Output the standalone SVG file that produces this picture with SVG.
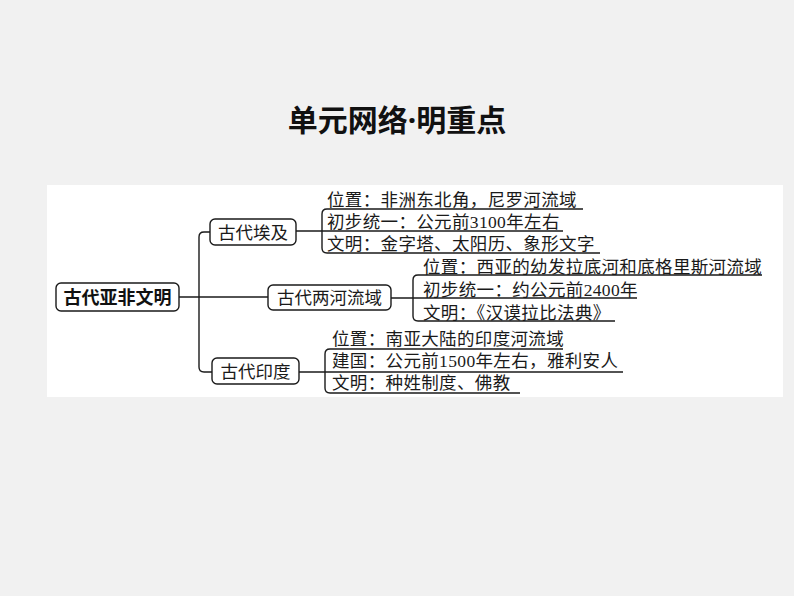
<svg xmlns="http://www.w3.org/2000/svg" width="794" height="596" viewBox="0 0 794 596">
<style>
.bg{fill:#f1f1f1}
.panel{fill:#ffffff}
.box{fill:#ffffff;stroke:#1a1a1a;stroke-width:1.4}
.ln{fill:none;stroke:#1a1a1a;stroke-width:1.4}
.t{font-family:"Liberation Serif","Noto Sans CJK SC",serif;font-size:17.5px;letter-spacing:0.35px;fill:#1a1a1a}
.bt{font-family:"Liberation Serif","Noto Sans CJK SC",serif;font-size:17.5px;fill:#1a1a1a;text-anchor:middle}
.root{font-family:"Noto Sans CJK SC",sans-serif;font-size:18px;font-weight:bold;fill:#111;text-anchor:middle}
.title{font-family:"Noto Sans CJK SC",sans-serif;font-size:30px;font-weight:bold;fill:#111;text-anchor:middle}
.dot{font-family:"Noto Sans",sans-serif}
</style>
<rect class="bg" x="0" y="0" width="794" height="596"/>
<text class="title" x="397" y="130.5">单元网络<tspan class="dot">·</tspan>明重点</text>
<rect class="panel" x="47" y="185" width="736" height="212"/>
<g id="connectors">
<path class="ln" d="M179,297 H270"/>
<path class="ln" d="M210,232 H204 Q199,232 199,237 V367 Q199,372 204,372 H212"/>
<path class="ln" d="M583,209 H327 Q322,209 322,214 V248 Q322,253 327,253 H600"/>
<path class="ln" d="M296,231 H563"/>
<path class="ln" d="M762,275 H418 Q413,275 413,280 V316 Q413,321 418,321 H615"/>
<path class="ln" d="M391,298 H637"/>
<path class="ln" d="M563,349 H330 Q325,349 325,354 V388 Q325,393 330,393 H520"/>
<path class="ln" d="M299,372 H623"/>
</g>
<g id="root">
<rect class="box" x="56" y="283" width="123" height="28" rx="5"/>
<text class="root" x="117.5" y="303.5">古代亚非文明</text>
</g>
<g id="egypt">
<rect class="box" x="210" y="219" width="86" height="26" rx="5"/>
<text class="bt" x="253" y="238.5">古代埃及</text>
</g>
<g id="egypt-details">
<text class="t" x="327" y="205.5">位置：非洲东北角，尼罗河流域</text>
<text class="t" x="327" y="227.5">初步统一：公元前3100年左右</text>
<text class="t" x="327" y="249.5">文明：金字塔、太阳历、象形文字</text>
</g>
<g id="mesopotamia">
<rect class="box" x="268" y="285" width="123" height="25" rx="5"/>
<text class="bt" x="329.5" y="304">古代两河流域</text>
</g>
<g id="mesopotamia-details">
<text class="t" x="423" y="272.5">位置：西亚的幼发拉底河和底格里斯河流域</text>
<text class="t" x="423" y="296">初步统一：约公元前2400年</text>
<text class="t" x="423" y="318.5">文明：《汉谟拉比法典》</text>
</g>
<g id="india">
<rect class="box" x="212" y="358" width="87" height="26" rx="5"/>
<text class="bt" x="255.5" y="377.5">古代印度</text>
</g>
<g id="india-details">
<text class="t" x="332" y="344.5">位置：南亚大陆的印度河流域</text>
<text class="t" x="332" y="366.5">建国：公元前1500年左右，雅利安人</text>
<text class="t" x="332" y="388.5">文明：种姓制度、佛教</text>
</g>
</svg>
